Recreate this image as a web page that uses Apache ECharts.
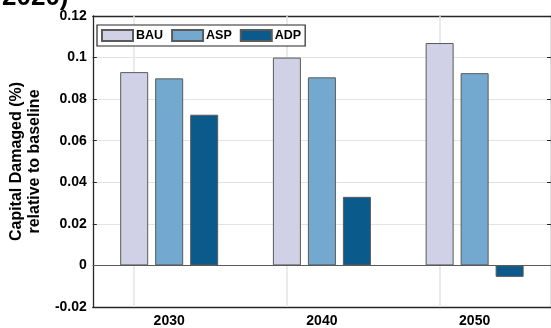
<!DOCTYPE html>
<html>
<head>
<meta charset="utf-8">
<script src="https://cdn.jsdelivr.net/npm/echarts@6/dist/echarts.min.js"></script>
<style>
  html, body { margin: 0; padding: 0; background: #fff; }
  #chart { width: 551px; height: 328px; }
</style>
</head>
<body>
<div id="chart"></div>
<script>
// Capital damaged relative to baseline, by scenario and year
const years = ['2030', '2040', '2050'];
const bau = [0.093, 0.1, 0.107];
const asp = [0.090, 0.0905, 0.0925];
const adp = [0.0725, 0.033, -0.0055];
const seriesNames = ['BAU', 'ASP', 'ADP'];
const colors = ['#d0d1e6', '#74a9cf', '#0b5a8c'];
const yTicks = { min: -0.02, max: 0.12, step: 0.02 };

const FONT = 'Liberation Sans, Arial, Helvetica, sans-serif';
const axisDark = '#262626';
const gridGray = '#e3e3e3';

const chart = echarts.init(document.getElementById('chart'), null, { renderer: 'canvas' });

function barSeries(name, data, color, extra) {
  return Object.assign({
    name: name,
    type: 'bar',
    data: data,
    barWidth: 28,
    barGap: '25%',
    xAxisIndex: 0,
    yAxisIndex: 0,
    itemStyle: { color: color, borderColor: '#5a5a5a', borderWidth: 1 },
    emphasis: { disabled: true },
    z: 2
  }, extra || {});
}

const option = {
  animation: false,
  backgroundColor: '#ffffff',
  textStyle: { fontFamily: FONT },
  grid: { left: 88, top: 16, width: 465, height: 293, containLabel: false },
  legend: {
    data: seriesNames,
    icon: 'rect',
    left: 97,
    top: 25,
    orient: 'horizontal',
    padding: [4, 4, 4, 4],
    itemGap: 8,
    itemWidth: 31,
    itemHeight: 11,
    borderColor: axisDark,
    borderWidth: 1.2,
    backgroundColor: '#ffffff',
    selectedMode: false,
    textStyle: { fontFamily: FONT, fontWeight: 'bold', fontSize: 12.5, color: '#000', padding: [0, 0, 0, -2] }
  },
  xAxis: [
    {
      type: 'category',
      data: years,
      position: 'bottom',
      axisLine: { onZero: false, lineStyle: { color: axisDark, width: 1.3 } },
      axisTick: { inside: true, alignWithLabel: true, length: 4, lineStyle: { color: axisDark } },
      axisLabel: { fontFamily: FONT, fontWeight: 'bold', fontSize: 14, color: '#000', margin: 7 },
      splitLine: { show: false }
    },
    {
      type: 'category',
      data: years,
      position: 'top',
      axisLine: { onZero: false, lineStyle: { color: axisDark, width: 1.3 } },
      axisTick: { inside: true, alignWithLabel: true, length: 4, lineStyle: { color: axisDark } },
      axisLabel: { show: false },
      splitLine: { show: false }
    }
  ],
  yAxis: [
    {
      type: 'value',
      min: yTicks.min,
      max: yTicks.max,
      interval: yTicks.step,
      position: 'left',
      name: 'Capital Damaged (%)\nrelative to baseline',
      nameLocation: 'middle',
      nameRotate: 90,
      nameGap: 37,
      nameTextStyle: { fontFamily: FONT, fontWeight: 'bold', fontSize: 16, lineHeight: 18, color: '#000' },
      axisLine: { show: true, lineStyle: { color: axisDark, width: 1.3 } },
      axisTick: { show: true, inside: true, length: 4, lineStyle: { color: axisDark } },
      axisLabel: {
        fontFamily: FONT, fontWeight: 'bold', fontSize: 14, color: '#000', margin: 6,
        formatter: function (v) { return String(Math.round(v * 100) / 100); }
      },
      splitLine: { show: true, lineStyle: { color: gridGray, width: 1 } }
    },
    {
      type: 'value',
      min: yTicks.min,
      max: yTicks.max,
      interval: yTicks.step,
      position: 'right',
      axisLine: { show: true, lineStyle: { color: axisDark, width: 1.3 } },
      axisTick: { show: true, inside: true, length: 4, lineStyle: { color: axisDark } },
      axisLabel: { show: false },
      splitLine: { show: false }
    }
  ],
  graphic: [
    {
      type: 'text',
      left: 2,
      top: -15,
      style: { text: '2020)', font: 'bold 26px ' + FONT, fill: '#000' }
    }
  ],
  series: [
    barSeries('BAU', bau, colors[0], {
      markLine: {
        silent: true,
        symbol: 'none',
        z: 1,
        label: { show: false },
        lineStyle: { color: gridGray, width: 1.5, type: 'solid' },
        data: years.map(function (y) { return { xAxis: y }; })
      }
    }),
    barSeries('ASP', asp, colors[1]),
    barSeries('ADP', adp, colors[2], {
      markLine: {
        silent: true,
        symbol: 'none',
        z: 5,
        label: { show: false },
        lineStyle: { color: '#5a5a5a', width: 1, type: 'solid' },
        data: [{ yAxis: 0 }]
      }
    })
  ]
};

chart.setOption(option);
</script>
</body>
</html>
